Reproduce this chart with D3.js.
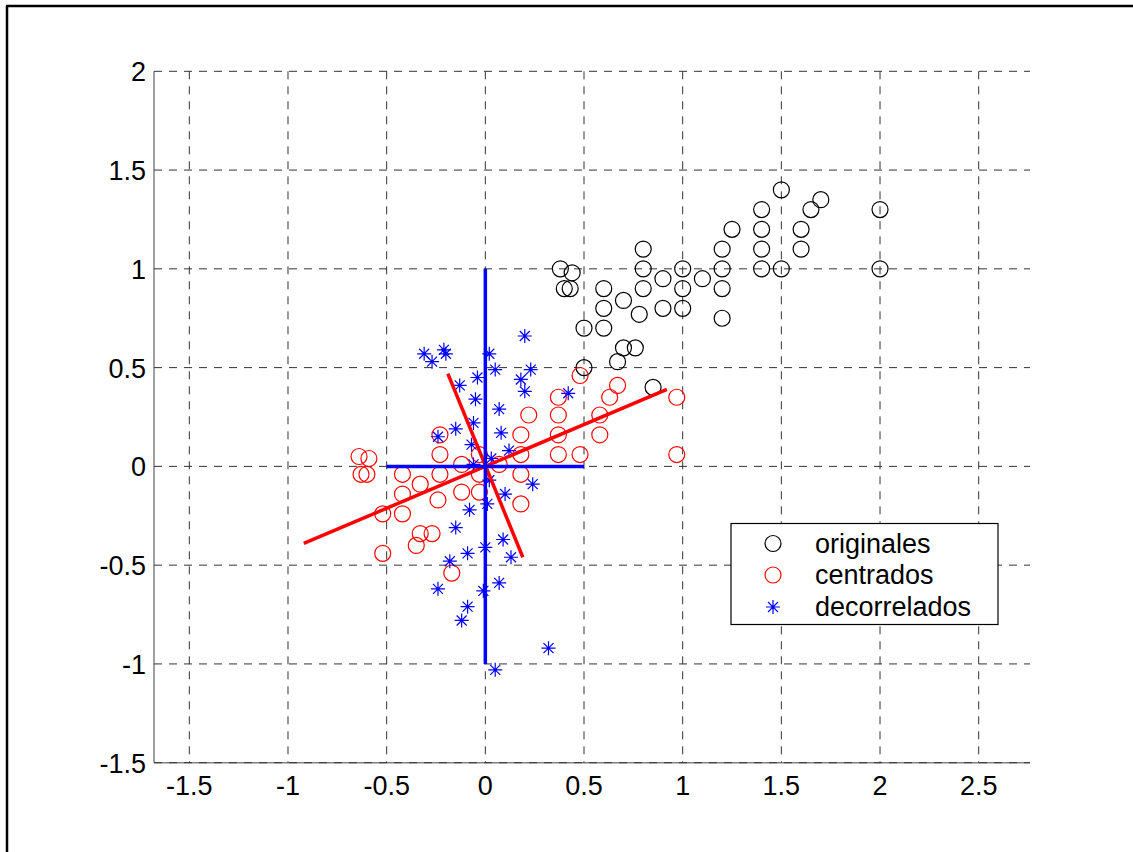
<!DOCTYPE html>
<html>
<head>
<meta charset="utf-8">
<script src="https://d3js.org/d3.v7.min.js"></script>
<style>
  body { margin: 0; background: #fff; }
  svg text { font-family: "Liberation Sans", Arial, sans-serif; }
</style>
</head>
<body>
<svg id="chart" width="1133" height="852"></svg>
<script>
// originales
var origX = [0.38, 0.44, 0.40, 0.43, 0.50, 0.50, 0.60, 0.60, 0.60, 0.70, 0.70, 0.76, 0.67, 0.78,
             0.80, 0.80, 0.80, 0.90, 0.90, 1.00, 1.00, 1.00, 1.10, 1.20, 1.20, 1.20, 1.20, 1.25,
             1.40, 1.40, 1.40, 1.40, 1.50, 1.50, 1.60, 1.60, 1.65, 1.70, 2.00, 2.00, 0.85];
var origY = [1.00, 0.98, 0.90, 0.90, 0.50, 0.70, 0.90, 0.80, 0.70, 0.84, 0.60, 0.60, 0.53, 0.77,
             1.10, 1.00, 0.90, 0.95, 0.80, 1.00, 0.90, 0.80, 0.95, 1.10, 1.00, 0.90, 0.75, 1.20,
             1.30, 1.20, 1.10, 1.00, 1.40, 1.00, 1.20, 1.10, 1.30, 1.35, 1.30, 1.00, 0.40];

// centrados
var centX = [-0.64, -0.59, -0.63, -0.60, -0.52, -0.52, -0.42, -0.42, -0.42, -0.33, -0.33, -0.27, -0.35, -0.24,
             -0.23, -0.23, -0.23, -0.12, -0.12, -0.03, -0.03, -0.03, 0.07, 0.18, 0.18, 0.18, 0.18, 0.22,
             0.37, 0.37, 0.37, 0.37, 0.48, 0.48, 0.58, 0.58, 0.63, 0.67, 0.97, 0.97, -0.17];
var centY = [0.05, 0.04, -0.04, -0.04, -0.44, -0.24, -0.04, -0.14, -0.24, -0.09, -0.34, -0.34, -0.40, -0.17,
             0.16, 0.06, -0.04, 0.01, -0.13, 0.06, -0.04, -0.13, 0.01, 0.16, 0.06, -0.04, -0.19, 0.26,
             0.35, 0.26, 0.16, 0.06, 0.46, 0.06, 0.26, 0.16, 0.35, 0.41, 0.35, 0.06, -0.54];

// decorrelados
var decX = [-0.31, -0.27, -0.21, -0.20, 0.02, -0.04, -0.13, -0.05, -0.06, -0.15, -0.24, -0.07, -0.06,
            0.20, 0.05, 0.23, 0.18, 0.20, 0.07, 0.08, 0.12, 0.03, 0.42, 0.24, 0.10, 0.01, -0.08,
            0.02, 0.09, 0.00, 0.13, 0.07, -0.01, 0.32, 0.05, -0.15, -0.09, -0.18, -0.24, -0.09, -0.12];
var decY = [0.57, 0.53, 0.59, 0.57, 0.57, 0.45, 0.41, 0.34, 0.22, 0.19, 0.15, 0.11, 0.01,
            0.66, 0.49, 0.49, 0.44, 0.38, 0.29, 0.17, 0.08, 0.04, 0.37, -0.09, -0.14, -0.19, -0.22,
            -0.07, -0.37, -0.41, -0.46, -0.59, -0.63, -0.92, -1.03, -0.31, -0.44, -0.48, -0.62, -0.71, -0.78];

// ejes principales (segmentos)
var redAxes = [[[-0.92, -0.39], [0.92, 0.39]], [[-0.19, 0.47], [0.19, -0.46]]];
var blueAxes = [[[-0.5, 0], [0.5, 0]], [[0, -1], [0, 1]]];

var xTicks = [-1.5, -1, -0.5, 0, 0.5, 1, 1.5, 2, 2.5];
var yTicks = [-1.5, -1, -0.5, 0, 0.5, 1, 1.5, 2];

var legendLabels = ["originales", "centrados", "decorrelados"];
var legendColors = ["#000", "#f00", "#00f"];

var svg = d3.select("#chart");
svg.append("rect").attr("width", 1133).attr("height", 852).attr("fill", "#fff");

// figure frame (top and left only visible)
svg.append("line").attr("x1", 6).attr("x2", 1133).attr("y1", 6).attr("y2", 6)
   .attr("stroke", "#000").attr("stroke-width", 2.5);
svg.append("line").attr("x1", 7).attr("x2", 7).attr("y1", 6).attr("y2", 852)
   .attr("stroke", "#000").attr("stroke-width", 2.5);

var x = d3.scaleLinear().domain([-1.679, 2.76]).range([154, 1030]);
var y = d3.scaleLinear().domain([-1.5, 2]).range([762.7, 71.3]);

// axis lines
svg.append("line").attr("x1", 154).attr("x2", 154).attr("y1", y(2)).attr("y2", y(-1.5))
   .attr("stroke", "#808080").attr("stroke-width", 1.5);
svg.append("line").attr("x1", 154).attr("x2", 1030).attr("y1", y(-1.5)).attr("y2", y(-1.5))
   .attr("stroke", "#808080").attr("stroke-width", 1.5);

// grid
var grid = svg.append("g").attr("stroke", "#333").attr("stroke-width", 1)
   .attr("stroke-dasharray", "8,7");
grid.selectAll("line.v").data(xTicks).enter().append("line")
    .attr("x1", function(d) { return x(d); }).attr("x2", function(d) { return x(d); })
    .attr("y1", y(2)).attr("y2", y(-1.5));
grid.selectAll("line.h").data(yTicks).enter().append("line")
    .attr("y1", function(d) { return y(d); }).attr("y2", function(d) { return y(d); })
    .attr("x1", 154).attr("x2", 1030);

// tick labels
svg.selectAll("text.xt").data(xTicks).enter().append("text")
   .attr("x", function(d) { return x(d); }).attr("y", 795)
   .attr("text-anchor", "middle").attr("font-size", 27).text(function(d) { return d; });
svg.selectAll("text.yt").data(yTicks).enter().append("text")
   .attr("x", 146).attr("y", function(d) { return y(d) + 10; })
   .attr("text-anchor", "end").attr("font-size", 27).text(function(d) { return d; });

function star(g, cx, cy, color) {
    var a = 7, b = 5;
    var p = "M" + (cx - a) + "," + cy + "H" + (cx + a) +
            "M" + cx + "," + (cy - a) + "V" + (cy + a) +
            "M" + (cx - b) + "," + (cy - b) + "L" + (cx + b) + "," + (cy + b) +
            "M" + (cx - b) + "," + (cy + b) + "L" + (cx + b) + "," + (cy - b);
    g.append("path").attr("d", p).attr("stroke", color).attr("stroke-width", 1.2).attr("fill", "none");
}

// points
svg.append("g").selectAll("circle").data(d3.range(origX.length)).enter().append("circle")
   .attr("cx", function(i) { return x(origX[i]); }).attr("cy", function(i) { return y(origY[i]); })
   .attr("r", 8).attr("fill", "none").attr("stroke", "#000").attr("stroke-width", 1.2);
svg.append("g").selectAll("circle").data(d3.range(centX.length)).enter().append("circle")
   .attr("cx", function(i) { return x(centX[i]); }).attr("cy", function(i) { return y(centY[i]); })
   .attr("r", 8).attr("fill", "none").attr("stroke", "#f00").attr("stroke-width", 1.2);
var gs = svg.append("g");
decX.forEach(function(d, i) { star(gs, x(decX[i]), y(decY[i]), "#00f"); });

// principal axes
var line = d3.line().x(function(d) { return x(d[0]); }).y(function(d) { return y(d[1]); });
svg.selectAll("path.ra").data(redAxes).enter().append("path")
   .attr("d", line).attr("stroke", "#f00").attr("stroke-width", 3.5).attr("fill", "none");
svg.selectAll("path.ba").data(blueAxes).enter().append("path")
   .attr("d", line).attr("stroke", "#00f").attr("stroke-width", 3.5).attr("fill", "none");

// legend
var lg = svg.append("g");
lg.append("rect").attr("x", 731).attr("y", 523.5).attr("width", 267).attr("height", 101)
  .attr("fill", "#fff").attr("stroke", "#000").attr("stroke-width", 1.2);
var rowY = [543.5, 575, 607];
legendLabels.forEach(function(lab, i) {
    if (i < 2) {
        lg.append("circle").attr("cx", 773).attr("cy", rowY[i]).attr("r", 8)
          .attr("fill", "none").attr("stroke", legendColors[i]).attr("stroke-width", 1.2);
    } else {
        star(lg, 773, rowY[i], legendColors[i]);
    }
    lg.append("text").attr("x", 815).attr("y", rowY[i] + 9).attr("font-size", 27).text(lab);
});
</script>
</body>
</html>
